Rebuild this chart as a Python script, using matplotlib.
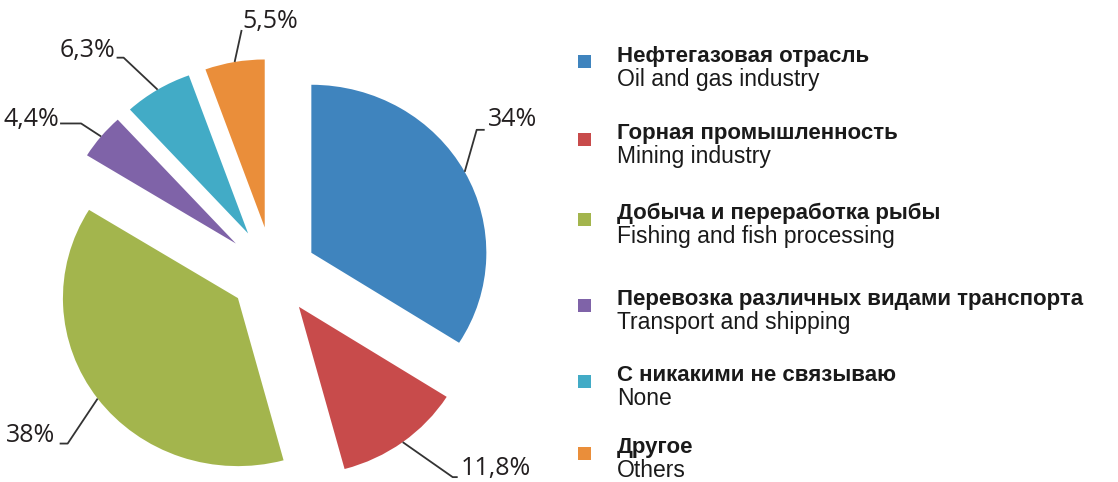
import numpy as np
import matplotlib.pyplot as plt
from matplotlib.patches import Rectangle

W, H = 1118, 482

# data
labels_ru = ['Нефтегазовая отрасль', 'Горная промышленность',
             'Добыча и переработка рыбы', 'Перевозка различных видами транспорта',
             'С никакими не связываю', 'Другое']
labels_en = ['Oil and gas industry', 'Mining industry', 'Fishing and fish processing',
             'Transport and shipping', 'None', 'Others']
shares = [34, 11.8, 38, 4.4, 6.3, 5.5]
share_text = ['34%', '11,8%', '38%', '4,4%', '6,3%', '5,5%']
colors = ['#3f84be', '#c84b4b', '#a3b54d', '#7f63a8', '#42abc6', '#ea8e3a']

# layout (pixels)
explode = [0.25, 0.25, 0.25, 0.275, 0.275, 0.275]
cx, cy, sx, sy = 273, 273, 175, 168
# elbow, stub end, text anchor (offsets from arc point, y down), alignment
leaders = [((12, -42), (20, -42), (23, -52), 'left'),
           ((50, 35), (55, 35), (58, 26), 'left'),
           ((-30, 45), (-38, 45), (-42, 37), 'right'),
           ((-20, -13), (-41, -13), (-42, -17), 'right'),
           ((-34, -32), (-41, -32), (-42, -39), 'right'),
           ((7, -32), (7, -32), (8, -40), 'left')]
legend_base = [62, 139, 219, 305, 381, 453]

fig = plt.figure(figsize=(W / 100, H / 100), dpi=100)
ax = fig.add_axes([0, 0, 1, 1])
wedges, _ = ax.pie(shares, colors=colors, startangle=90, counterclock=False,
                   explode=explode, radius=1)
ax.set_aspect('auto')
ax.set_xlim(-cx / sx, (W - cx) / sx)
ax.set_ylim(-(H - cy) / sy, cy / sy)
ax.axis('off')

to_disp = ax.transData.transform
to_data = ax.transData.inverted().transform

# percentage labels with leader lines
for w, txt, (elb, stub, tpos, ha) in zip(wedges, share_text, leaders):
    mid = np.deg2rad((w.theta1 + w.theta2) / 2)
    px, py = to_disp((w.center[0] + w.r * np.cos(mid), w.center[1] + w.r * np.sin(mid)))
    pts = [(px, py), (px + elb[0], py - elb[1]), (px + stub[0], py - stub[1])]
    pts = to_data(pts)
    ax.plot(pts[:, 0], pts[:, 1], color='#333333', lw=1.3, solid_capstyle='butt')
    tx, ty = to_data((px + tpos[0], py - tpos[1]))
    ax.text(tx, ty, txt, ha=ha, va='center', fontsize=18, family='Open Sans',
            color='#231f20')

# legend
for i, (ru, en) in enumerate(zip(labels_ru, labels_en)):
    y = legend_base[i]
    fig.add_artist(Rectangle(((584 - 6.5) / W, 1 - (y + 6.5) / H), 13 / W, 13 / H,
                             transform=fig.transFigure, color=colors[i], lw=0))
    fig.text(617 / W, 1 - y / H, ru, fontsize=16, fontweight='bold',
             family='Liberation Sans', va='baseline', color='#1a1a1a')
    fig.text(617 / W, 1 - (y + 24) / H, en, fontsize=16.5,
             family='Liberation Sans', va='baseline', color='#1a1a1a')

fig.savefig('out.png', dpi=100)
